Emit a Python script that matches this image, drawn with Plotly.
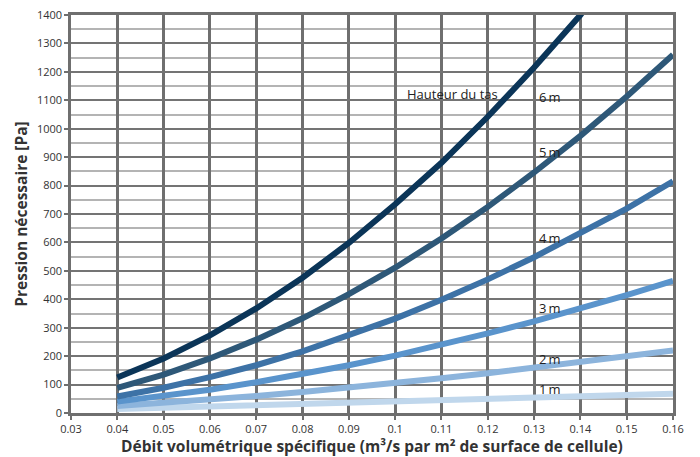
import plotly.graph_objects as go

# Specific volumetric flow (m³/s per m² of cell surface)
debit = [0.04, 0.05, 0.06, 0.07, 0.08, 0.09, 0.10, 0.11, 0.12, 0.13, 0.14, 0.15, 0.16]

# Required pressure [Pa] for each pile height
p_6m = [125, 192, 273, 368, 476, 598, 734, 880, 1042, 1215, 1400, 1600, 1815]
p_5m = [88, 135, 192, 258, 333, 418, 511, 614, 725, 846, 975, 1113, 1260]
p_4m = [58, 89, 126, 168, 217, 272, 332, 398, 470, 548, 631, 719, 815]
p_3m = [40, 59, 82, 108, 136, 168, 202, 240, 280, 322, 367, 415, 465]
p_2m = [25, 35, 47, 60, 74, 89, 105, 122, 140, 159, 179, 199, 220]
p_1m = [14, 18, 22, 26, 31, 35, 40, 44, 49, 54, 58, 63, 68]

hauteurs = ["6\u2009m", "5\u2009m", "4\u2009m", "3\u2009m", "2\u2009m", "1\u2009m"]
series = [p_6m, p_5m, p_4m, p_3m, p_2m, p_1m]
couleurs = ["#0b3558", "#2e5878", "#3d72a6", "#5a94cc", "#8cb4dc", "#c0d7ec"]

# Label anchor positions (x, y) for each curve
label_x = [0.1306, 0.1306, 0.1306, 0.1306, 0.1306, 0.1306]
label_y = [1113, 919, 617, 371, 191, 86]

fig = go.Figure()

# Draw lightest curves first so darker ones sit on top
for nom, vals, col in reversed(list(zip(hauteurs, series, couleurs))):
    fig.add_trace(go.Scatter(
        x=debit, y=vals, mode="lines", name=nom,
        line=dict(color=col, width=6),
        hoverinfo="x+y+name",
    ))

txt_font = dict(family="Open Sans, Noto Sans, sans-serif", size=13, color="#222222")
for nom, lx, ly in zip(hauteurs, label_x, label_y):
    fig.add_annotation(x=lx, y=ly, text=nom, showarrow=False,
                       xanchor="left", yanchor="middle", font=txt_font)
fig.add_annotation(x=0.1021, y=1123, text="Hauteur du tas", showarrow=False,
                   xanchor="left", yanchor="middle", font=txt_font)

fig.update_layout(
    width=700, height=457,
    margin=dict(l=71, r=27, t=15, b=44),
    plot_bgcolor="white", paper_bgcolor="white",
    showlegend=False,
    font=dict(family="Open Sans, Noto Sans, sans-serif", color="#333333"),
    xaxis=dict(
        range=[0.03, 0.16], dtick=0.01, tick0=0.03,
        automargin=False,
        showgrid=True, gridcolor="#6f6f6f", gridwidth=2.5,
        zeroline=False,
        showline=True, linecolor="#6f6f6f", linewidth=2.5, mirror=True,
        ticks="outside", ticklen=4, tickcolor="#6f6f6f", tickwidth=1.5,
        tickfont=dict(size=11, color="#333333"),
        title=dict(text="<b>Débit volumétrique spécifique (m³/s par m² de surface de cellule)</b>",
                   font=dict(size=15.5, color="#333333"), standoff=4),
    ),
    yaxis=dict(
        range=[0, 1400], dtick=100, tick0=0,
        automargin=False,
        showgrid=True, gridcolor="#747474", gridwidth=2.2,
        minor=dict(dtick=50, showgrid=True, gridcolor="#b4b4b4", gridwidth=2),
        zeroline=False,
        showline=True, linecolor="#6f6f6f", linewidth=2.5, mirror=True,
        ticks="outside", ticklen=4, tickcolor="#6f6f6f", tickwidth=1.5,
        tickfont=dict(size=11, color="#333333"),
        title=dict(text="<b>Pression nécessaire [Pa]</b>",
                   font=dict(size=15.5, color="#333333"), standoff=6),
    ),
)

fig.write_html("out.html")
